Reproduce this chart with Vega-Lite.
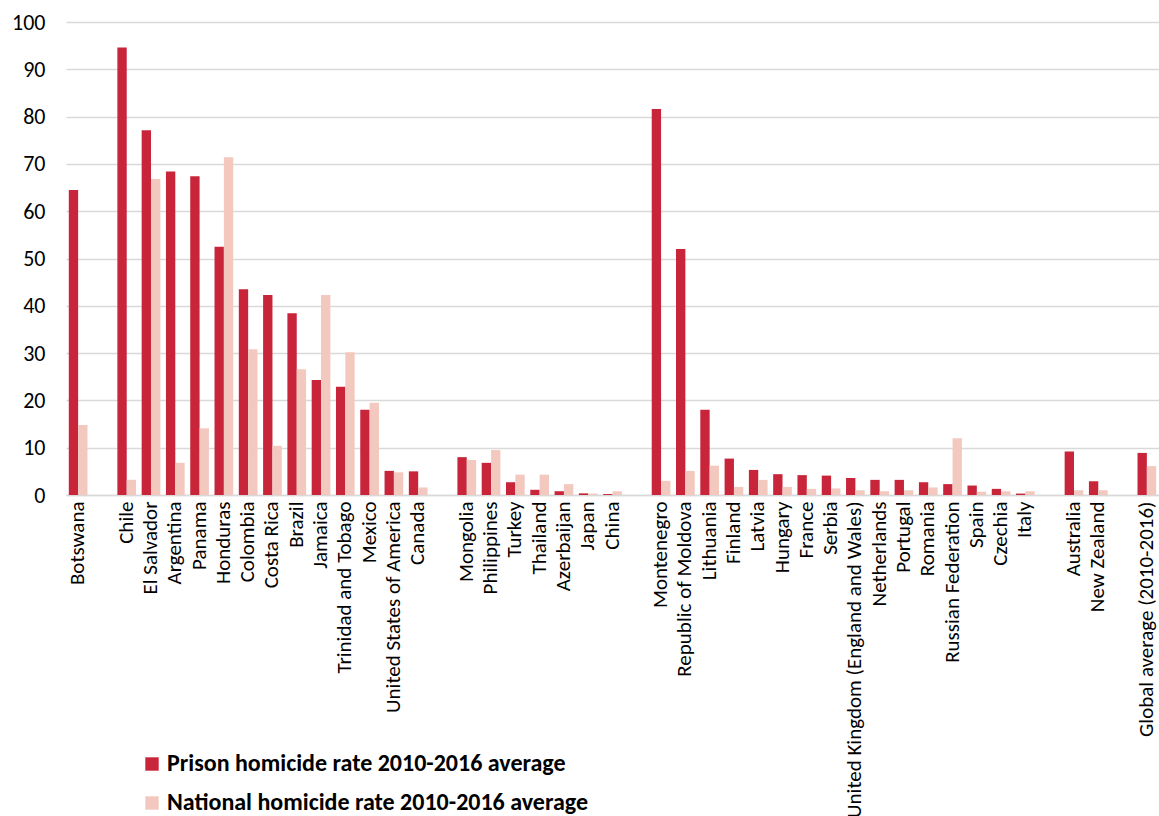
{
  "$schema": "https://vega.github.io/schema/vega-lite/v6.json",
  "width": 1093,
  "height": 473,
  "autosize": {"type": "none"},
  "padding": {"left": 66, "top": 22, "right": 0, "bottom": 321},
  "config": {"view": {"stroke": null}, "font": "Carlito, Lato, sans-serif"},
  "data": {
    "values": [
      {"country": "Botswana", "series": "Prison homicide rate 2010-2016 average", "rate": 64.5},
      {"country": "Botswana", "series": "National homicide rate 2010-2016 average", "rate": 14.8},
      {"country": "Chile", "series": "Prison homicide rate 2010-2016 average", "rate": 94.6},
      {"country": "Chile", "series": "National homicide rate 2010-2016 average", "rate": 3.2},
      {"country": "El Salvador", "series": "Prison homicide rate 2010-2016 average", "rate": 77.1},
      {"country": "El Salvador", "series": "National homicide rate 2010-2016 average", "rate": 66.8},
      {"country": "Argentina", "series": "Prison homicide rate 2010-2016 average", "rate": 68.4},
      {"country": "Argentina", "series": "National homicide rate 2010-2016 average", "rate": 6.8},
      {"country": "Panama", "series": "Prison homicide rate 2010-2016 average", "rate": 67.4},
      {"country": "Panama", "series": "National homicide rate 2010-2016 average", "rate": 14.1},
      {"country": "Honduras", "series": "Prison homicide rate 2010-2016 average", "rate": 52.5},
      {"country": "Honduras", "series": "National homicide rate 2010-2016 average", "rate": 71.4},
      {"country": "Colombia", "series": "Prison homicide rate 2010-2016 average", "rate": 43.5},
      {"country": "Colombia", "series": "National homicide rate 2010-2016 average", "rate": 30.8},
      {"country": "Costa Rica", "series": "Prison homicide rate 2010-2016 average", "rate": 42.3},
      {"country": "Costa Rica", "series": "National homicide rate 2010-2016 average", "rate": 10.4},
      {"country": "Brazil", "series": "Prison homicide rate 2010-2016 average", "rate": 38.4},
      {"country": "Brazil", "series": "National homicide rate 2010-2016 average", "rate": 26.6},
      {"country": "Jamaica", "series": "Prison homicide rate 2010-2016 average", "rate": 24.3},
      {"country": "Jamaica", "series": "National homicide rate 2010-2016 average", "rate": 42.3},
      {"country": "Trinidad and Tobago", "series": "Prison homicide rate 2010-2016 average", "rate": 22.9},
      {"country": "Trinidad and Tobago", "series": "National homicide rate 2010-2016 average", "rate": 30.2},
      {"country": "Mexico", "series": "Prison homicide rate 2010-2016 average", "rate": 18.0},
      {"country": "Mexico", "series": "National homicide rate 2010-2016 average", "rate": 19.5},
      {"country": "United States of America", "series": "Prison homicide rate 2010-2016 average", "rate": 5.1},
      {"country": "United States of America", "series": "National homicide rate 2010-2016 average", "rate": 4.8},
      {"country": "Canada", "series": "Prison homicide rate 2010-2016 average", "rate": 5.0},
      {"country": "Canada", "series": "National homicide rate 2010-2016 average", "rate": 1.6},
      {"country": "Mongolia", "series": "Prison homicide rate 2010-2016 average", "rate": 8.0},
      {"country": "Mongolia", "series": "National homicide rate 2010-2016 average", "rate": 7.4},
      {"country": "Philippines", "series": "Prison homicide rate 2010-2016 average", "rate": 6.8},
      {"country": "Philippines", "series": "National homicide rate 2010-2016 average", "rate": 9.5},
      {"country": "Turkey", "series": "Prison homicide rate 2010-2016 average", "rate": 2.7},
      {"country": "Turkey", "series": "National homicide rate 2010-2016 average", "rate": 4.3},
      {"country": "Thailand", "series": "Prison homicide rate 2010-2016 average", "rate": 1.1},
      {"country": "Thailand", "series": "National homicide rate 2010-2016 average", "rate": 4.3},
      {"country": "Azerbaijan", "series": "Prison homicide rate 2010-2016 average", "rate": 0.8},
      {"country": "Azerbaijan", "series": "National homicide rate 2010-2016 average", "rate": 2.3},
      {"country": "Japan", "series": "Prison homicide rate 2010-2016 average", "rate": 0.35},
      {"country": "Japan", "series": "National homicide rate 2010-2016 average", "rate": 0.3},
      {"country": "China", "series": "Prison homicide rate 2010-2016 average", "rate": 0.2},
      {"country": "China", "series": "National homicide rate 2010-2016 average", "rate": 0.8},
      {"country": "Montenegro", "series": "Prison homicide rate 2010-2016 average", "rate": 81.6},
      {"country": "Montenegro", "series": "National homicide rate 2010-2016 average", "rate": 3.0},
      {"country": "Republic of Moldova", "series": "Prison homicide rate 2010-2016 average", "rate": 52.0},
      {"country": "Republic of Moldova", "series": "National homicide rate 2010-2016 average", "rate": 5.1},
      {"country": "Lithuania", "series": "Prison homicide rate 2010-2016 average", "rate": 18.0},
      {"country": "Lithuania", "series": "National homicide rate 2010-2016 average", "rate": 6.2},
      {"country": "Finland", "series": "Prison homicide rate 2010-2016 average", "rate": 7.7},
      {"country": "Finland", "series": "National homicide rate 2010-2016 average", "rate": 1.7},
      {"country": "Latvia", "series": "Prison homicide rate 2010-2016 average", "rate": 5.3},
      {"country": "Latvia", "series": "National homicide rate 2010-2016 average", "rate": 3.2},
      {"country": "Hungary", "series": "Prison homicide rate 2010-2016 average", "rate": 4.4},
      {"country": "Hungary", "series": "National homicide rate 2010-2016 average", "rate": 1.7},
      {"country": "France", "series": "Prison homicide rate 2010-2016 average", "rate": 4.2},
      {"country": "France", "series": "National homicide rate 2010-2016 average", "rate": 1.3},
      {"country": "Serbia", "series": "Prison homicide rate 2010-2016 average", "rate": 4.1},
      {"country": "Serbia", "series": "National homicide rate 2010-2016 average", "rate": 1.4},
      {"country": "United Kingdom (England and Wales)", "series": "Prison homicide rate 2010-2016 average", "rate": 3.6},
      {"country": "United Kingdom (England and Wales)", "series": "National homicide rate 2010-2016 average", "rate": 1.0},
      {"country": "Netherlands", "series": "Prison homicide rate 2010-2016 average", "rate": 3.2},
      {"country": "Netherlands", "series": "National homicide rate 2010-2016 average", "rate": 0.8},
      {"country": "Portugal", "series": "Prison homicide rate 2010-2016 average", "rate": 3.2},
      {"country": "Portugal", "series": "National homicide rate 2010-2016 average", "rate": 1.0},
      {"country": "Romania", "series": "Prison homicide rate 2010-2016 average", "rate": 2.7},
      {"country": "Romania", "series": "National homicide rate 2010-2016 average", "rate": 1.6},
      {"country": "Russian Federation", "series": "Prison homicide rate 2010-2016 average", "rate": 2.3},
      {"country": "Russian Federation", "series": "National homicide rate 2010-2016 average", "rate": 12.0},
      {"country": "Spain", "series": "Prison homicide rate 2010-2016 average", "rate": 2.0},
      {"country": "Spain", "series": "National homicide rate 2010-2016 average", "rate": 0.7},
      {"country": "Czechia", "series": "Prison homicide rate 2010-2016 average", "rate": 1.3},
      {"country": "Czechia", "series": "National homicide rate 2010-2016 average", "rate": 0.8},
      {"country": "Italy", "series": "Prison homicide rate 2010-2016 average", "rate": 0.3},
      {"country": "Italy", "series": "National homicide rate 2010-2016 average", "rate": 0.8},
      {"country": "Australia", "series": "Prison homicide rate 2010-2016 average", "rate": 9.2},
      {"country": "Australia", "series": "National homicide rate 2010-2016 average", "rate": 1.0},
      {"country": "New Zealand", "series": "Prison homicide rate 2010-2016 average", "rate": 2.9},
      {"country": "New Zealand", "series": "National homicide rate 2010-2016 average", "rate": 1.0},
      {"country": "Global average (2010-2016)", "series": "Prison homicide rate 2010-2016 average", "rate": 8.9},
      {"country": "Global average (2010-2016)", "series": "National homicide rate 2010-2016 average", "rate": 6.1}
    ]
  },
  "mark": {"type": "bar"},
  "encoding": {
    "x": {
      "field": "country",
      "type": "nominal",
      "title": null,
      "scale": {
        "domain": ["Botswana", "gap1", "Chile", "El Salvador", "Argentina", "Panama", "Honduras", "Colombia", "Costa Rica", "Brazil", "Jamaica", "Trinidad and Tobago", "Mexico", "United States of America", "Canada", "gap2", "Mongolia", "Philippines", "Turkey", "Thailand", "Azerbaijan", "Japan", "China", "gap3", "Montenegro", "Republic of Moldova", "Lithuania", "Finland", "Latvia", "Hungary", "France", "Serbia", "United Kingdom (England and Wales)", "Netherlands", "Portugal", "Romania", "Russian Federation", "Spain", "Czechia", "Italy", "gap4", "Australia", "New Zealand", "gap5", "Global average (2010-2016)"],
        "paddingInner": 0.23,
        "paddingOuter": 0.115
      },
      "axis": {
        "labelAngle": -90,
        "labelFontSize": 21,
        "labelColor": "#000000",
        "ticks": false,
        "labelPadding": 6,
        "domainColor": "#d9d9d9",
        "domainWidth": 1.3,
        "grid": false,
        "labelOverlap": false,
        "labelLimit": 1000,
        "labelExpr": "indexof(datum.label, 'gap') == 0 ? '' : datum.label"
      }
    },
    "xOffset": {
      "field": "series",
      "scale": {
        "domain": ["Prison homicide rate 2010-2016 average", "National homicide rate 2010-2016 average"],
        "paddingInner": 0,
        "paddingOuter": 0
      }
    },
    "y": {
      "field": "rate",
      "type": "quantitative",
      "title": null,
      "scale": {"domain": [0, 100], "nice": false},
      "axis": {
        "values": [0, 10, 20, 30, 40, 50, 60, 70, 80, 90, 100],
        "labelFontSize": 22,
        "labelColor": "#000000",
        "ticks": false,
        "domain": false,
        "labelPadding": 21,
        "gridColor": "#d9d9d9",
        "gridWidth": 1.3
      }
    },
    "color": {
      "field": "series",
      "type": "nominal",
      "scale": {
        "domain": ["Prison homicide rate 2010-2016 average", "National homicide rate 2010-2016 average"],
        "range": ["#C8243A", "#F3C9BF"]
      },
      "legend": {
        "orient": "none",
        "legendX": 74,
        "legendY": 730,
        "direction": "vertical",
        "title": null,
        "symbolType": "square",
        "symbolSize": 180,
        "symbolStrokeWidth": 0,
        "labelFontSize": 24,
        "labelFontWeight": "bold",
        "labelColor": "#000000",
        "labelOffset": 3,
        "rowPadding": 15,
        "labelLimit": 1000,
        "padding": 0
      }
    }
  }
}
